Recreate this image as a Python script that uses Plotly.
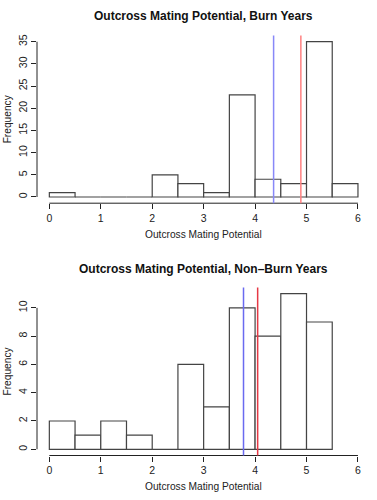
import plotly.graph_objects as go

# ---- data ----
bin_edges = [0, 0.5, 1, 1.5, 2, 2.5, 3, 3.5, 4, 4.5, 5, 5.5, 6]
burn_counts = [1, 0, 0, 0, 5, 3, 1, 23, 4, 3, 35, 3]
nonburn_edges = [0, 0.5, 1, 1.5, 2, 2.5, 3, 3.5, 4, 4.5, 5, 5.5]
nonburn_counts = [2, 1, 2, 1, 0, 6, 3, 10, 8, 11, 9]
burn_blue_line = 4.36
burn_red_line = 4.89
nonburn_blue_line = 3.775
nonburn_red_line = 4.05
x_ticks = [0, 1, 2, 3, 4, 5, 6]
burn_y_ticks = [0, 5, 10, 15, 20, 25, 30, 35]
nonburn_y_ticks = [0, 2, 4, 6, 8, 10]
title_top = "Outcross Mating Potential, Burn Years"
title_bottom = "Outcross Mating Potential, Non\u2013Burn Years"
x_title = "Outcross Mating Potential"
y_title = "Frequency"

FONT = "Liberation Sans, Arial, Helvetica, sans-serif"
W, H = 377, 500


def centers(edges):
    return [(a + b) / 2 for a, b in zip(edges[:-1], edges[1:])]


def widths(edges):
    return [b - a for a, b in zip(edges[:-1], edges[1:])]


bar_line = dict(color="#444", width=1.2)
fig = go.Figure()
fig.add_trace(go.Bar(x=centers(bin_edges), y=burn_counts, width=widths(bin_edges),
                     marker=dict(color="white", line=bar_line),
                     xaxis="x", yaxis="y", showlegend=False, hoverinfo="skip"))
fig.add_trace(go.Bar(x=centers(nonburn_edges), y=nonburn_counts, width=widths(nonburn_edges),
                     marker=dict(color="white", line=bar_line),
                     xaxis="x2", yaxis="y2", showlegend=False, hoverinfo="skip"))

# plot regions (pixels)
xl, xr = 37.0, 370.3
top_t, top_b = 35.5, 203.2
bot_t, bot_b = 287.5, 455.5


def ext(lo, hi):
    d = (hi - lo) * 0.04
    return [lo - d, hi + d]


tickfont = dict(family=FONT, size=10.5, color="#222")
common_x = dict(tickmode="array", tickvals=x_ticks, ticks="outside", ticklen=5,
                tickcolor="#222", tickwidth=1, showline=False, showgrid=False,
                zeroline=False, tickfont=tickfont, range=ext(0, 6), automargin=False,
                domain=[xl / W, xr / W], fixedrange=True)
common_y = dict(tickmode="array", ticks="outside", ticklen=5, tickcolor="#222",
                tickwidth=1, showline=False, showgrid=False, zeroline=False, automargin=False,
                tickfont=tickfont, tickangle=-90, fixedrange=True)

fig.update_layout(
    width=W, height=H, margin=dict(l=0, r=0, t=0, b=0, autoexpand=False),
    paper_bgcolor="white", plot_bgcolor="white", bargap=0,
    xaxis=dict(**common_x, anchor="y"),
    yaxis=dict(**common_y, tickvals=burn_y_ticks, range=ext(0, max(burn_counts)),
               domain=[1 - top_b / H, 1 - top_t / H], anchor="x"),
    xaxis2=dict(**common_x, anchor="y2"),
    yaxis2=dict(**common_y, tickvals=nonburn_y_ticks, range=ext(0, max(nonburn_counts)),
                domain=[1 - bot_b / H, 1 - bot_t / H], anchor="x2"),
)

shapes = []
# R-style axis lines spanning first to last tick
for xa, ya, yt in [("x", "y", burn_y_ticks), ("x2", "y2", nonburn_y_ticks)]:
    shapes.append(dict(type="line", xref=xa, yref=ya + " domain", x0=x_ticks[0], x1=x_ticks[-1],
                       y0=0, y1=0, line=dict(color="#222", width=1)))
    shapes.append(dict(type="line", xref=xa + " domain", yref=ya, x0=0, x1=0,
                       y0=yt[0], y1=yt[-1], line=dict(color="#222", width=1)))
# vertical reference lines
for xa, ya, v, c in [("x", "y", burn_blue_line, "#8888f8"), ("x", "y", burn_red_line, "#ff8080"),
                     ("x2", "y2", nonburn_blue_line, "#6a6af0"), ("x2", "y2", nonburn_red_line, "#e63946")]:
    shapes.append(dict(type="line", xref=xa, yref=ya + " domain", x0=v, x1=v, y0=0, y1=1,
                       line=dict(color=c, width=1.5)))
fig.update_layout(shapes=shapes)

cx = (xl + xr) / 2 / W
ann = []
for t, ty in [(title_top, 16), (title_bottom, 269)]:
    ann.append(dict(text="<b>" + t + "</b>", x=cx, y=1 - ty / H, xref="paper", yref="paper",
                    showarrow=False, xanchor="center", yanchor="middle",
                    font=dict(family=FONT, size=12, color="#111")))
for ty in [234.3, 486.7]:
    ann.append(dict(text=x_title, x=cx, y=1 - ty / H, xref="paper", yref="paper",
                    showarrow=False, xanchor="center", yanchor="middle",
                    font=dict(family=FONT, size=10.2, color="#222")))
for ty in [(top_t + top_b) / 2, (bot_t + bot_b) / 2]:
    ann.append(dict(text=y_title, x=7 / W, y=1 - ty / H, xref="paper", yref="paper",
                    showarrow=False, xanchor="center", yanchor="middle", textangle=-90,
                    font=dict(family=FONT, size=10.2, color="#222")))
fig.update_layout(annotations=ann)

fig.write_html("out.html", config={"displayModeBar": False, "staticPlot": True},
               post_script="document.body.style.margin='0';document.body.style.overflow='hidden';")
